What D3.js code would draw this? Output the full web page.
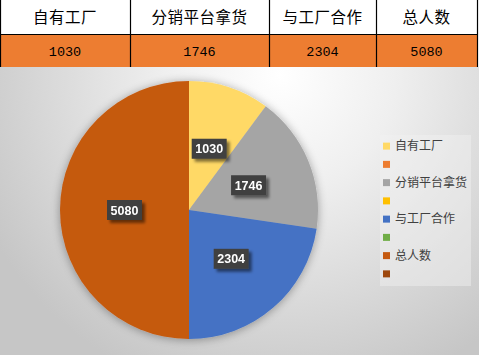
<!DOCTYPE html>
<html>
<head>
<meta charset="utf-8">
<script src="https://cdn.jsdelivr.net/npm/d3@7"></script>
<style>
  body { margin: 0; background: #fff; }
  svg { display: block; }
</style>
</head>
<body>
<svg id="chart" width="479" height="355"></svg>
<script>
// table + pie data
const categories = ['自有工厂', '分销平台拿货', '与工厂合作', '总人数']
const values = [1030, 1746, 2304, 5080]
const pieColors = ['#FFD966', '#A5A5A5', '#4472C4', '#C55A11']

// legend entries (blank names are shown as swatches only)
const legendNames = ['自有工厂', '', '分销平台拿货', '', '与工厂合作', '', '总人数', '']
const legendColors = ['#FFD966', '#ED7D31', '#A5A5A5', '#FFC000', '#4472C4', '#70AD47', '#C55A11', '#9E480E']

const svg = d3.select('#chart')
const defs = svg.append('defs')

/* ----------  TABLE  ---------- */
const colEdges = [0, 130, 269, 376, 477]
const rowTop = 0, rowMid = 34, rowBot = 67

const colX = d3.scaleOrdinal().domain(categories).range(colEdges.slice(0, 4))
const colW = (d, i) => colEdges[i + 1] - colEdges[i]

const table = svg.append('g')

table.append('rect')
  .attr('x', 0).attr('y', rowMid)
  .attr('width', 477).attr('height', rowBot - rowMid)
  .attr('fill', '#ED7D31')

table.selectAll('.hdr')
  .data(categories)
  .enter().append('text')
  .attr('class', 'hdr')
  .attr('x', (d, i) => colX(d) + colW(d, i) / 2)
  .attr('y', 17)
  .attr('dy', '0.36em')
  .attr('text-anchor', 'middle')
  .style('font-family', '"Noto Sans CJK SC", sans-serif')
  .style('font-size', '15.5px')
  .style('letter-spacing', '0.5px')
  .style('fill', '#000')
  .text(d => d)

table.selectAll('.val')
  .data(values)
  .enter().append('text')
  .attr('class', 'val')
  .attr('x', (d, i) => colX(categories[i]) + colW(d, i) / 2)
  .attr('y', 51)
  .attr('dy', '0.36em')
  .attr('text-anchor', 'middle')
  .style('font-family', '"Liberation Mono", monospace')
  .style('font-size', '13.5px')
  .style('fill', '#000')
  .text(d => d)

// grid lines
colEdges.forEach(x => {
  table.append('line')
    .attr('x1', x + 0.5).attr('x2', x + 0.5)
    .attr('y1', rowTop).attr('y2', rowBot)
    .attr('stroke', '#000').attr('stroke-width', 1.2)
})
table.append('line')
  .attr('x1', 0).attr('x2', 478)
  .attr('y1', rowMid + 0.5).attr('y2', rowMid + 0.5)
  .attr('stroke', '#000').attr('stroke-width', 1.2)

/* ----------  CHART BACKGROUND  ---------- */
const bg = defs.append('radialGradient')
  .attr('id', 'bgGrad')
  .attr('gradientUnits', 'userSpaceOnUse')
  .attr('cx', 280).attr('cy', 75).attr('r', 330)
bg.append('stop').attr('offset', '0%').attr('stop-color', '#ffffff')
bg.append('stop').attr('offset', '35%').attr('stop-color', '#efefef')
bg.append('stop').attr('offset', '100%').attr('stop-color', '#c6c6c6')

svg.append('rect')
  .attr('x', 0).attr('y', rowBot)
  .attr('width', 479).attr('height', 355 - rowBot)
  .attr('fill', 'url(#bgGrad)')

/* ----------  PIE  ---------- */
const cx = 189, cy = 210, radius = 129

const shadow = defs.append('filter').attr('id', 'pieShadow')
  .attr('x', '-20%').attr('y', '-20%').attr('width', '140%').attr('height', '140%')
shadow.append('feGaussianBlur').attr('in', 'SourceAlpha').attr('stdDeviation', 5)
shadow.append('feOffset').attr('dx', 0).attr('dy', 1).attr('result', 'b')
shadow.append('feComponentTransfer').append('feFuncA').attr('type', 'linear').attr('slope', 0.35)
const m = shadow.append('feMerge')
m.append('feMergeNode')
m.append('feMergeNode').attr('in', 'SourceGraphic')

const lblShadow = defs.append('filter').attr('id', 'lblShadow')
  .attr('x', '-30%').attr('y', '-30%').attr('width', '170%').attr('height', '190%')
lblShadow.append('feGaussianBlur').attr('in', 'SourceAlpha').attr('stdDeviation', 1.5)
lblShadow.append('feOffset').attr('dx', 3).attr('dy', 3)
lblShadow.append('feComponentTransfer').append('feFuncA').attr('type', 'linear').attr('slope', 0.5)
const m2 = lblShadow.append('feMerge')
m2.append('feMergeNode')
m2.append('feMergeNode').attr('in', 'SourceGraphic')

const pie = d3.pie().sort(null).value(d => d)
const arcs = pie(values)
const arc = d3.arc().innerRadius(0).outerRadius(radius)
const labelArc = d3.arc().innerRadius(radius * 0.5).outerRadius(radius * 0.5)

const pieG = svg.append('g').attr('transform', `translate(${cx},${cy})`)

pieG.append('g').attr('filter', 'url(#pieShadow)')
  .selectAll('path')
  .data(arcs)
  .enter().append('path')
  .attr('d', arc)
  .attr('fill', (d, i) => pieColors[i])

const lbl = pieG.selectAll('.lbl')
  .data(arcs)
  .enter().append('g')
  .attr('class', 'lbl')
  .attr('transform', d => `translate(${labelArc.centroid(d)})`)
  .attr('filter', 'url(#lblShadow)')

lbl.append('rect')
  .attr('x', -17.5).attr('y', -10)
  .attr('width', 35).attr('height', 20)
  .attr('fill', '#404040')

lbl.append('text')
  .attr('text-anchor', 'middle')
  .attr('dy', '0.36em')
  .style('font-family', '"Liberation Sans", Arial, sans-serif')
  .style('font-weight', 'bold')
  .style('font-size', '12.5px')
  .style('fill', '#fff')
  .text(d => d.data)

/* ----------  LEGEND  ---------- */
const legend = svg.append('g')

legend.append('rect')
  .attr('x', 380).attr('y', 135)
  .attr('width', 91).attr('height', 151)
  .attr('fill', '#f2f2f2').attr('opacity', 0.45)

const ly = d3.scaleBand()
  .domain(d3.range(legendNames.length))
  .range([137, 283])

const items = legend.selectAll('.item')
  .data(legendNames)
  .enter().append('g')
  .attr('class', 'item')
  .attr('transform', (d, i) => `translate(383, ${ly(i) + ly.bandwidth() / 2})`)

items.append('rect')
  .attr('x', 0).attr('y', -3.5)
  .attr('width', 7).attr('height', 7)
  .attr('fill', (d, i) => legendColors[i])

items.append('text')
  .attr('x', 12)
  .attr('dy', '0.36em')
  .style('font-family', '"Noto Sans CJK SC", sans-serif')
  .style('font-size', '12px')
  .style('fill', '#404040')
  .text(d => d)
</script>
</body>
</html>
